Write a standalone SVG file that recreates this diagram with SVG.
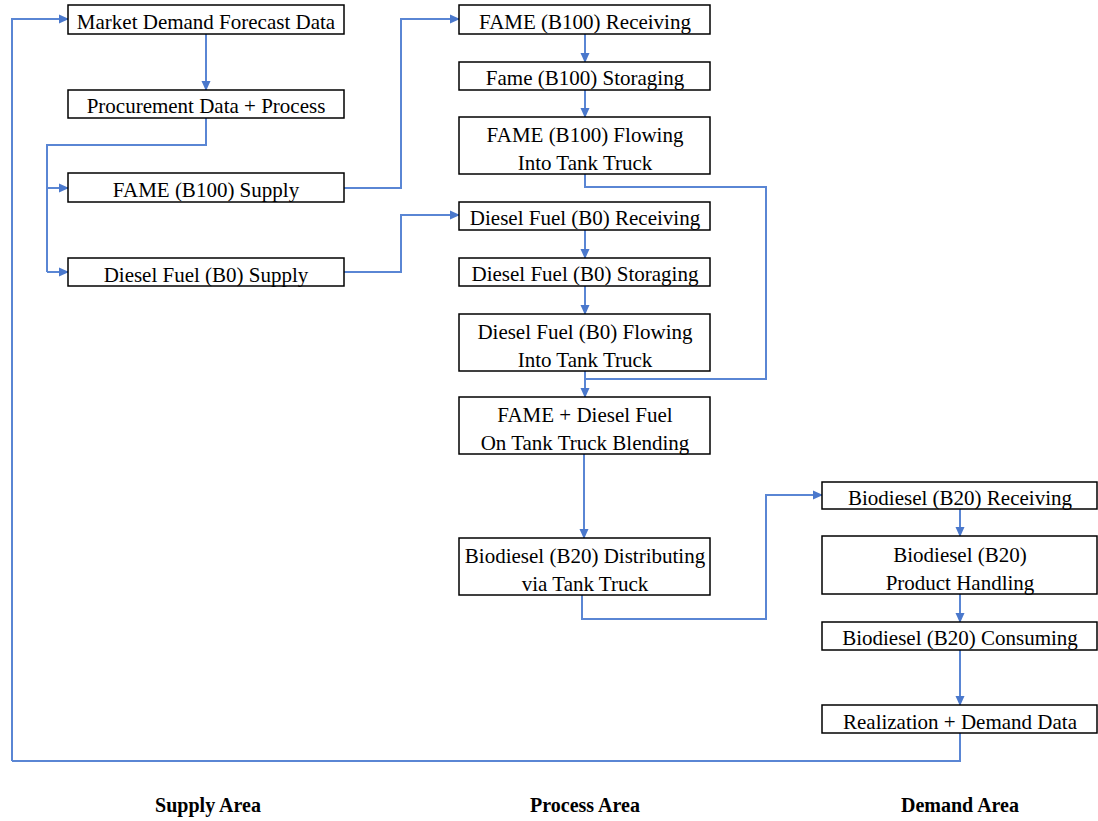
<svg xmlns="http://www.w3.org/2000/svg" width="1098" height="821" viewBox="0 0 1098 821">
<defs>
<marker id="ah" markerWidth="10" markerHeight="10" refX="9" refY="5" orient="auto" markerUnits="userSpaceOnUse">
<path d="M0,0.5 L10,5 L0,9.5 Z" fill="#4a78cc"/>
</marker>
</defs>
<style>
.box{fill:#fff;stroke:#000;stroke-width:1.5}
.t{font-size:21px;fill:#000;text-anchor:middle}
.lab{font-size:20px;font-weight:bold;fill:#000;text-anchor:middle}
.c{fill:none;stroke:#5a86d4;stroke-width:2}
.a{marker-end:url(#ah)}
</style>
<rect width="1098" height="821" fill="#fff"/>
<g id="connectors">
<path class="c a" d="M12,761 L12,19 L68,19"/>
<path class="c a" d="M206,34 L206,90"/>
<path class="c" d="M206,118 L206,145 L47,145 L47,272"/>
<path class="c a" d="M47,188 L68,188"/>
<path class="c a" d="M47,272 L68,272"/>
<path class="c a" d="M344,188 L401,188 L401,19 L459,19"/>
<path class="c a" d="M344,272 L401,272 L401,215 L459,215"/>
<path class="c a" d="M585,34 L585,62"/>
<path class="c a" d="M585,90 L585,117"/>
<path class="c" d="M585,174 L585,187 L766,187 L766,379 L585,379"/>
<path class="c a" d="M585,230 L585,258"/>
<path class="c a" d="M585,286 L585,314"/>
<path class="c a" d="M585,371 L585,397"/>
<path class="c a" d="M584,454 L584,538"/>
<path class="c a" d="M582,595 L582,619 L766,619 L766,495 L822,495"/>
<path class="c a" d="M960,509 L960,536"/>
<path class="c a" d="M960,594 L960,622"/>
<path class="c a" d="M960,650 L960,705"/>
<path class="c" d="M960,733 L960,761 L12,761"/>
</g>
<g font-family="'Liberation Serif', 'DejaVu Serif', serif">
<g id="n1"><rect class="box" x="68" y="5" width="276" height="29"/><text class="t" x="206" y="29">Market Demand Forecast Data</text></g>
<g id="n2"><rect class="box" x="68" y="90" width="276" height="28"/><text class="t" x="206" y="113">Procurement Data + Process</text></g>
<g id="n3"><rect class="box" x="68" y="173" width="276" height="29"/><text class="t" x="206" y="197">FAME (B100) Supply</text></g>
<g id="n4"><rect class="box" x="68" y="258" width="276" height="28"/><text class="t" x="206" y="282">Diesel Fuel (B0) Supply</text></g>
<g id="n5"><rect class="box" x="459" y="5" width="251" height="29"/><text class="t" x="585" y="29">FAME (B100) Receiving</text></g>
<g id="n6"><rect class="box" x="459" y="62" width="251" height="28"/><text class="t" x="585" y="85">Fame (B100) Storaging</text></g>
<g id="n7"><rect class="box" x="459" y="117" width="251" height="57"/><text class="t" x="585" y="142">FAME (B100) Flowing</text><text class="t" x="585" y="170">Into Tank Truck</text></g>
<g id="n8"><rect class="box" x="459" y="202" width="251" height="28"/><text class="t" x="585" y="225">Diesel Fuel (B0) Receiving</text></g>
<g id="n9"><rect class="box" x="459" y="258" width="251" height="28"/><text class="t" x="585" y="281">Diesel Fuel (B0) Storaging</text></g>
<g id="n10"><rect class="box" x="459" y="314" width="251" height="57"/><text class="t" x="585" y="339">Diesel Fuel (B0) Flowing</text><text class="t" x="585" y="367">Into Tank Truck</text></g>
<g id="n11"><rect class="box" x="459" y="397" width="251" height="57"/><text class="t" x="585" y="422">FAME + Diesel Fuel</text><text class="t" x="585" y="450">On Tank Truck Blending</text></g>
<g id="n12"><rect class="box" x="459" y="538" width="251" height="57"/><text class="t" x="585" y="563">Biodiesel (B20) Distributing</text><text class="t" x="585" y="591">via Tank Truck</text></g>
<g id="n13"><rect class="box" x="822" y="482" width="275" height="27"/><text class="t" x="960" y="505">Biodiesel (B20) Receiving</text></g>
<g id="n14"><rect class="box" x="822" y="536" width="275" height="58"/><text class="t" x="960" y="562">Biodiesel (B20)</text><text class="t" x="960" y="590">Product Handling</text></g>
<g id="n15"><rect class="box" x="822" y="622" width="275" height="28"/><text class="t" x="960" y="645">Biodiesel (B20) Consuming</text></g>
<g id="n16"><rect class="box" x="822" y="705" width="275" height="28"/><text class="t" x="960" y="729">Realization + Demand Data</text></g>
<g id="labels">
<text class="lab" x="208" y="812">Supply Area</text>
<text class="lab" x="585" y="812">Process Area</text>
<text class="lab" x="960" y="812">Demand Area</text>
</g>
</g>
</svg>
